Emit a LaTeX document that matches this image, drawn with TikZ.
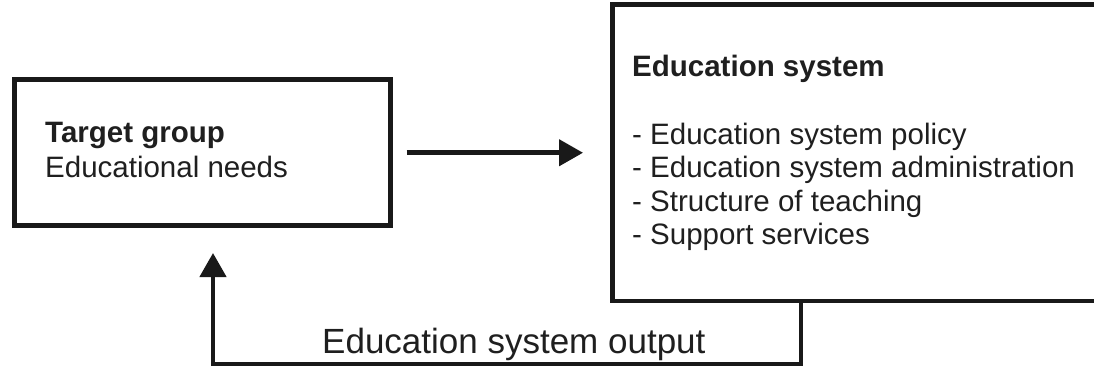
\documentclass[tikz,border=0pt]{standalone}
\usepackage{fontspec}
\setmainfont{Liberation Sans}
\usetikzlibrary{arrows.meta,calc}
\begin{document}
\begin{tikzpicture}[x=1pt,y=1pt,
  box/.style={draw=black!90, line width=4.5pt, inner sep=0pt, anchor=south west},
  txt/.style={inner sep=0pt, anchor=base west, font=\fontsize{29.5}{33.5}\selectfont, text=black!88},
  conn/.style={line width=4.5pt, draw=black!90, line join=miter, -{Triangle[length=24pt,width=26pt]}}]
\useasboundingbox (0,0) rectangle (1094,367);
\fill[white] (0,0) rectangle (1094,367);
% boxes
\node[box, minimum width=376pt, minimum height=146pt] (tg) at (12,139) {};
\node[box, minimum width=490pt, minimum height=296pt] (es) at (610,64) {};
% left box text
\node[txt, font=\fontsize{29.5}{33.5}\selectfont\bfseries] (tgt) at (45,224) {Target group};
\node[txt] (tgn) at (45,189) {Educational needs};
% right box text
\node[txt, font=\fontsize{29.5}{33.5}\selectfont\bfseries] (est) at (632,290) {Education system};
\node[txt] (es1) at (632,222) {- Education system policy};
\node[txt] (es2) at (632,189) {- Education system administration};
\node[txt] (es3) at (632,155) {- Structure of teaching};
\node[txt] (es4) at (632,122) {- Support services};
% bottom label
\node[txt, font=\fontsize{35}{40}\selectfont] (out) at (322,14) {Education system output};
% connectors
\draw[conn] ([xshift=14pt]tg.east) -- ([xshift=-27pt]es.west);
\coordinate (c1) at (801,3);
\coordinate (c2) at (213,3);
\draw[conn] (es.south -| c1) -- (c1) -- (c2) -- ([yshift=-25pt]tg.south -| c2);
\end{tikzpicture}
\end{document}
